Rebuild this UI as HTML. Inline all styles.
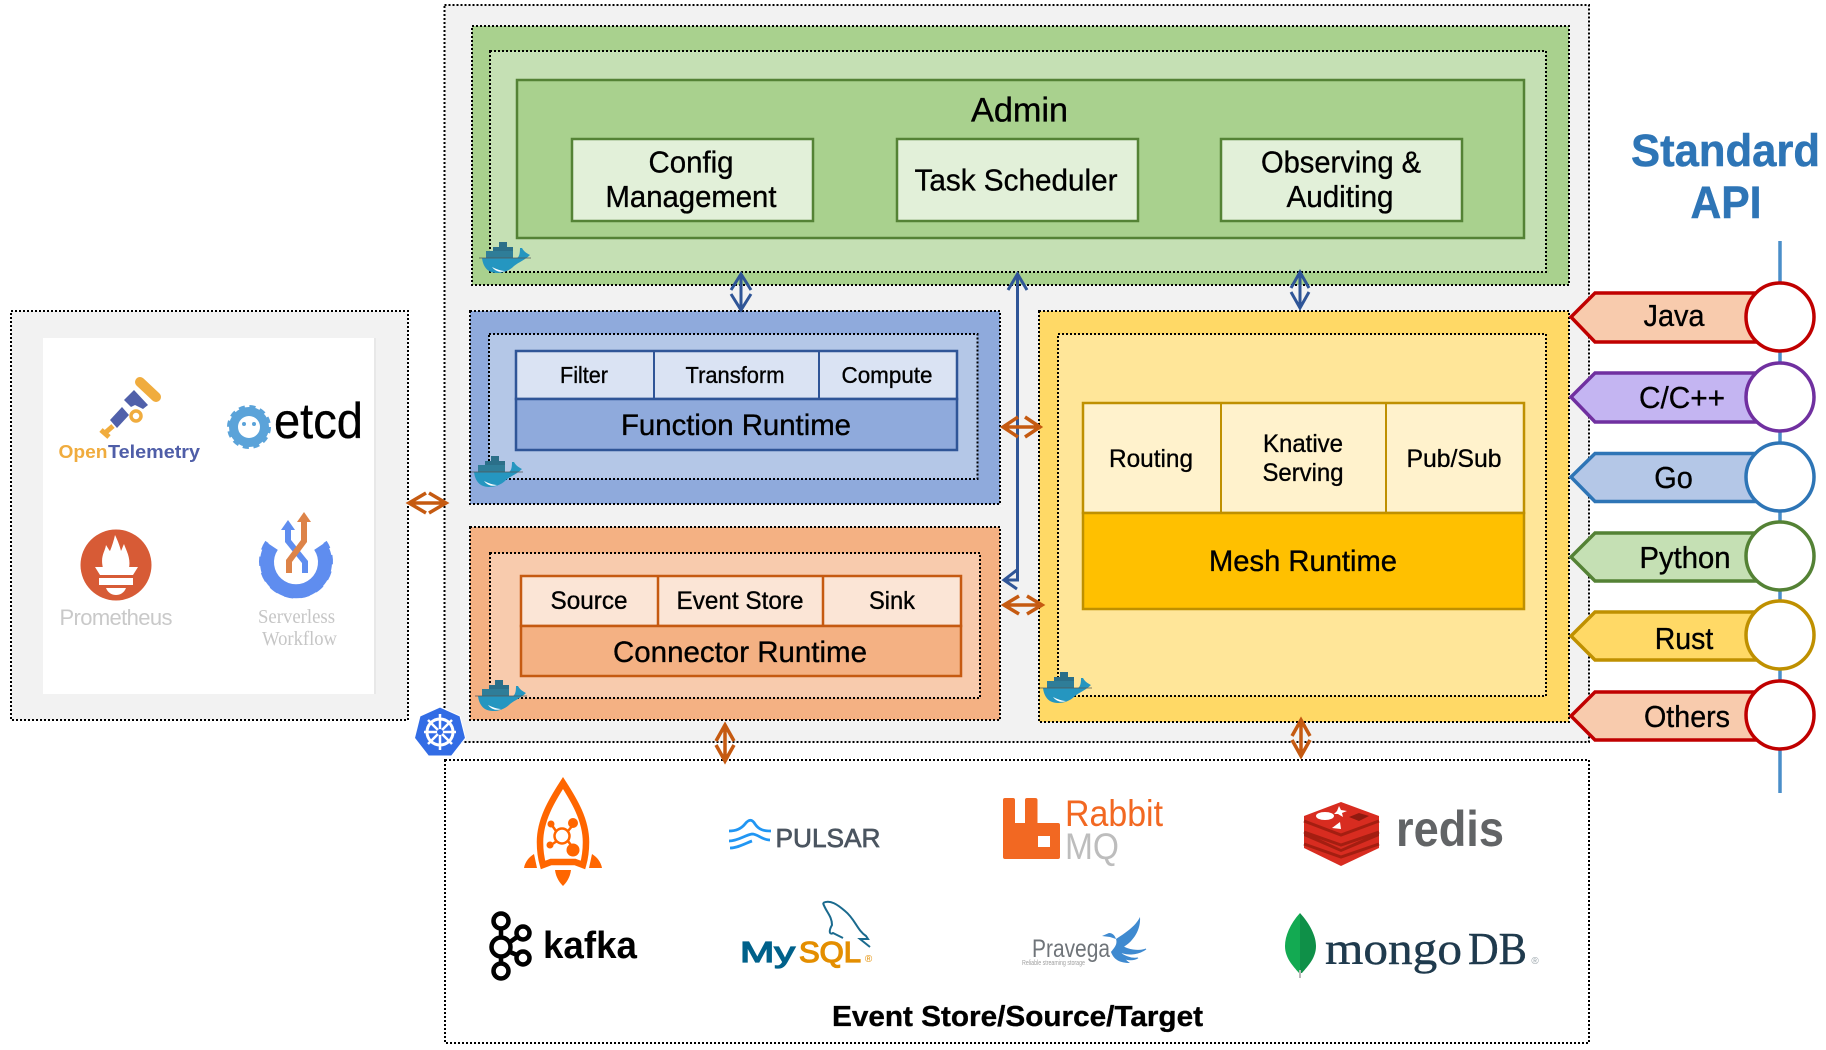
<!DOCTYPE html>
<html><head><meta charset="utf-8"><style>
html,body{margin:0;padding:0;background:#fff;width:1826px;height:1050px;overflow:hidden}
svg{display:block}
text{font-family:"Liberation Sans",sans-serif;fill:#000}
.m{text-anchor:middle}
.d{stroke:#000;stroke-width:2;stroke-dasharray:2 2}
.bl{fill:none;stroke:#2f5597;stroke-width:3}
.or{fill:none;stroke:#c55a11;stroke-width:3.5}
.k{stroke:#000;stroke-width:.35}
</style></head><body>
<svg width="1826" height="1050" viewBox="0 0 1826 1050" xmlns="http://www.w3.org/2000/svg">
<defs>
<symbol id="dk" viewBox="0 0 53 31">
<rect x="20" y="0" width="8" height="8" fill="#2b6f89"/><rect x="14" y="5" width="20" height="11" fill="#2b6f89"/><rect x="7" y="9" width="27" height="7" fill="#2f7d98"/>
<path d="M3 16H37C40 16 41 12 41 6L43 6C45 10 49 12 51 13C46 18 40 20 35 24C30 29 24 31 18 31C8 31 4 24 3 16Z" fill="#2596c0"/>
<path d="M13 25C16 29 21 31 26 29C22 29 17 27 13 25Z" fill="#fff"/>
<path d="M0 16H52" stroke="#555" stroke-width=".8" fill="none"/>
</symbol>
</defs>

<!-- left panel -->
<rect x="11" y="311" width="397" height="409" fill="#f2f2f2" class="d"/>
<rect x="43" y="338" width="332" height="356" fill="#fff"/><rect x="374" y="338" width="2" height="356" fill="#e8e8e8"/>

<!-- OpenTelemetry -->
<path d="M140 382L156 397" stroke="#f0ac3e" stroke-width="10" stroke-linecap="round"/>
<path d="M124 400L134 390L148 405L143 409L135 405L131 407Z" fill="#5060aa"/>
<path d="M110 420L122 407L129 415L117 428Z" fill="#5060aa"/>
<circle cx="136" cy="416" r="5" fill="none" stroke="#f0ac3e" stroke-width="3.5"/>
<path d="M105 433L113 426M101 430L109 437" stroke="#f0ac3e" stroke-width="5" fill="none"/>
<text x="83" y="458" class="m" font-size="18" font-weight="700" textLength="49" lengthAdjust="spacingAndGlyphs" style="fill:#f0ac3e">Open</text>
<text x="154" y="458" class="m" font-size="18" font-weight="700" textLength="92" lengthAdjust="spacingAndGlyphs" style="fill:#4f5ea8">Telemetry</text>

<!-- etcd -->
<circle cx="249" cy="427" r="15" fill="none" stroke="#5ba3d9" stroke-width="10"/>
<circle cx="249" cy="427" r="20" fill="none" stroke="#5ba3d9" stroke-width="4" stroke-dasharray="6 4.500"/>
<circle cx="249" cy="427" r="11" fill="#fff"/>
<circle cx="244" cy="424" r="2" fill="#5ba3d9"/><circle cx="254" cy="424" r="2" fill="#5ba3d9"/>
<text x="318.500" y="438" class="m k" font-size="50" textLength="89" lengthAdjust="spacingAndGlyphs">etcd</text>

<!-- Prometheus -->
<circle cx="116" cy="565" r="35.500" fill="#d75b36"/>
<path d="M103 568C100 556 105 552 106 545C108 548 109 550 110 551C112 546 114 540 115 535C118 541 120 547 121 551C122 549 123 546 124 544C126 550 131 558 129 568Z" fill="#fff"/>
<path d="M95 567H138L133 575H100Z" fill="#fff"/>
<rect x="99" y="578" width="34" height="7" fill="#fff"/>
<path d="M106 588H126C124 593 120 595 116 595C112 595 108 593 106 588Z" fill="#fff"/>
<text x="116" y="625" class="m" font-size="22" textLength="113" style="fill:#c9c9c9">Prometheus</text>

<!-- Serverless Workflow -->
<path d="M272 546A29 29 0 1 0 320 546" fill="none" stroke="#5f8def" stroke-width="14"/>
<path d="M267 542A35 35 0 1 0 325 542" fill="none" stroke="#5f8def" stroke-width="4" stroke-dasharray="9 7"/>
<path d="M305 573V562L288 541V528" fill="none" stroke="#5f8def" stroke-width="6"/>
<path d="M281 530L288 520L295 530Z" fill="#5f8def"/>
<path d="M289 573V561L304 541V521" fill="none" stroke="#dd8348" stroke-width="6"/>
<path d="M297 522L304 512L311 522Z" fill="#dd8348"/>
<text x="296.500" y="623" class="m" font-size="20" textLength="77" lengthAdjust="spacingAndGlyphs" style="font-family:'Liberation Serif',serif;fill:#c6c6c6">Serverless</text>
<text x="299.500" y="645" class="m" font-size="20" textLength="75" lengthAdjust="spacingAndGlyphs" style="font-family:'Liberation Serif',serif;fill:#c6c6c6">Workflow</text>

<!-- main panel -->
<rect x="444.500" y="5" width="1144.500" height="737" fill="#f2f2f2" class="d"/>

<!-- Admin -->
<rect x="472" y="26" width="1097" height="259" fill="#a9d18e" class="d"/>
<rect x="490" y="51" width="1056" height="221" fill="#c5e0b4" class="d"/>
<rect x="517" y="80" width="1007" height="158" fill="#a9d18e" stroke="#548235" stroke-width="2.500"/>
<text x="1019.500" y="121.500" class="m k" font-size="34" textLength="97" lengthAdjust="spacingAndGlyphs">Admin</text>
<g fill="#e2f0d9" stroke="#548235" stroke-width="2.500">
<rect x="572" y="139" width="241" height="82"/><rect x="897" y="139" width="241" height="82"/><rect x="1221" y="139" width="241" height="82"/>
</g>
<g font-size="31">
<text x="691" y="172.500" class="m k" textLength="85" lengthAdjust="spacingAndGlyphs">Config</text>
<text x="691" y="207" class="m k" textLength="171" lengthAdjust="spacingAndGlyphs">Management</text>
<text x="1016" y="190.500" class="m k" textLength="203" lengthAdjust="spacingAndGlyphs">Task Scheduler</text>
<text x="1341" y="172.500" class="m k" textLength="160" lengthAdjust="spacingAndGlyphs">Observing &amp;</text>
<text x="1340" y="207" class="m k" textLength="107" lengthAdjust="spacingAndGlyphs">Auditing</text>
</g>
<use href="#dk" x="479" y="242" width="53" height="31"/>

<!-- Function -->
<rect x="470" y="311" width="530" height="193" fill="#8faadc" class="d"/>
<rect x="489" y="334" width="488.500" height="145" fill="#b4c7e7" class="d"/>
<rect x="516" y="351" width="441" height="48" fill="#dae3f3" stroke="#2f5597" stroke-width="2.500"/>
<rect x="516" y="399" width="441" height="51" fill="#8faadc" stroke="#2f5597" stroke-width="2.500"/>
<path d="M654 351V399M819 351V399" stroke="#2f5597" stroke-width="2"/>
<g font-size="23">
<text x="584" y="383" class="m k" textLength="48" lengthAdjust="spacingAndGlyphs">Filter</text>
<text x="735" y="383" class="m k" textLength="99" lengthAdjust="spacingAndGlyphs">Transform</text>
<text x="887" y="383" class="m k" textLength="91" lengthAdjust="spacingAndGlyphs">Compute</text>
</g>
<text x="736" y="435" class="m k" font-size="30" textLength="230" lengthAdjust="spacingAndGlyphs">Function Runtime</text>
<use href="#dk" x="471" y="456" width="53" height="31"/>

<!-- Connector -->
<rect x="470" y="527" width="530" height="193" fill="#f4b183" class="d"/>
<rect x="490" y="553" width="490" height="145" fill="#f8cbad" class="d"/>
<rect x="521" y="576" width="440" height="50" fill="#fbe5d6" stroke="#c55a11" stroke-width="2.500"/>
<rect x="521" y="626" width="440" height="50" fill="#f4b183" stroke="#c55a11" stroke-width="2.500"/>
<path d="M658 576V626M823 576V626" stroke="#c55a11" stroke-width="2.500"/>
<g font-size="25">
<text x="589" y="609" class="m k" textLength="77" lengthAdjust="spacingAndGlyphs">Source</text>
<text x="740" y="609" class="m k" textLength="127" lengthAdjust="spacingAndGlyphs">Event Store</text>
<text x="892" y="609" class="m k" textLength="46" lengthAdjust="spacingAndGlyphs">Sink</text>
</g>
<text x="740" y="662" class="m k" font-size="30" textLength="254" lengthAdjust="spacingAndGlyphs">Connector Runtime</text>
<use href="#dk" x="475" y="680" width="53" height="31"/>

<!-- Mesh -->
<rect x="1039" y="311" width="530" height="411" fill="#ffd966" class="d"/>
<rect x="1058" y="334" width="488" height="362" fill="#ffe699" class="d"/>
<rect x="1083" y="403" width="441" height="110" fill="#fff2cc" stroke="#bf9000" stroke-width="2.500"/>
<rect x="1083" y="513" width="441" height="96" fill="#ffc000" stroke="#bf9000" stroke-width="2.500"/>
<path d="M1221 403V513M1386 403V513" stroke="#bf9000" stroke-width="2"/>
<g font-size="25">
<text x="1151" y="467" class="m k" textLength="84" lengthAdjust="spacingAndGlyphs">Routing</text>
<text x="1303" y="452" class="m k" textLength="80" lengthAdjust="spacingAndGlyphs">Knative</text>
<text x="1303" y="481" class="m k" textLength="81" lengthAdjust="spacingAndGlyphs">Serving</text>
<text x="1454" y="467" class="m k" textLength="95" lengthAdjust="spacingAndGlyphs">Pub/Sub</text>
</g>
<text x="1303" y="571" class="m k" font-size="30" textLength="188" lengthAdjust="spacingAndGlyphs">Mesh Runtime</text>
<use href="#dk" x="1040" y="672" width="53" height="31"/>

<!-- Event panel -->
<rect x="445" y="760" width="1144" height="283" fill="#fff" class="d"/>

<!-- arrows blue -->
<path class="bl" d="M741 275V310M731 290L741 274L751 290M731 294L741 310L751 294"/>
<path class="bl" d="M1017.500 274V580H1004M1008 290L1017.500 274L1027 290M1017 570L1004 580L1017 589"/>
<path class="bl" d="M1300 273V308M1291 288L1300 272L1309 288M1291 292L1300 308L1309 292"/>
<!-- arrows orange -->
<path class="or" d="M409 503H446M426 493L409 503L426 513M429 493L446 503L429 513"/>
<path class="or" d="M1003 427H1040M1018 417L1003 427L1018 437M1025 417L1040 427L1025 437"/>
<path class="or" d="M1004 605H1042M1019 596L1004 605L1019 614M1027 596L1042 605L1027 614"/>
<path class="or" d="M725 725V761M716 741L725 725L734 741M716 745L725 761L734 745"/>
<path class="or" d="M1301 720V756M1292 736L1301 720L1310 736M1292 740L1301 756L1310 740"/>

<!-- Kubernetes -->
<path d="M440 707L460 716L465.500 738L451.500 756H428.500L414.500 738L420 716Z" fill="#326ce5" stroke="#fff" stroke-width="1"/>
<circle cx="440" cy="732" r="13" fill="none" stroke="#fff" stroke-width="3"/>
<g stroke="#fff" stroke-width="2.500"><path d="M440 714V750M424 732H456M428 720L452 744M452 720L428 744"/></g>
<circle cx="440" cy="732" r="3" fill="#326ce5"/>

<!-- Standard API -->
<text x="1725.500" y="166" class="m" font-size="45" font-weight="700" textLength="189" lengthAdjust="spacingAndGlyphs" style="fill:#2e75b6;stroke:#2e75b6;stroke-width:.5">Standard</text>
<text x="1726" y="218" class="m" font-size="45" font-weight="700" textLength="71" lengthAdjust="spacingAndGlyphs" style="fill:#2e75b6;stroke:#2e75b6;stroke-width:.5">API</text>
<path d="M1780 241V793" stroke="#4a8ec9" stroke-width="3.500"/>

<!-- tags -->
<g stroke-width="3.500">
<path d="M1571 317L1595 293H1760V342H1595Z" fill="#f8cbad" stroke="#c00000"/>
<circle cx="1780" cy="317" r="34" fill="#fff" stroke="#c00000"/>
<path d="M1571 397L1595 373H1760V422H1595Z" fill="#c4b5f2" stroke="#7030a0"/>
<circle cx="1780" cy="397" r="34" fill="#fff" stroke="#7030a0"/>
<path d="M1571 477L1595 453.500H1760V501.500H1595Z" fill="#b4c7e7" stroke="#2e75b6"/>
<circle cx="1780" cy="477" r="34" fill="#fff" stroke="#2e75b6"/>
<path d="M1571 557L1595 533H1760V581H1595Z" fill="#c5e0b4" stroke="#548235"/>
<circle cx="1780" cy="556" r="34" fill="#fff" stroke="#548235"/>
<path d="M1571 636L1595 612H1760V660H1595Z" fill="#ffd966" stroke="#bf9000"/>
<circle cx="1780" cy="635" r="34" fill="#fff" stroke="#bf9000"/>
<path d="M1571 716L1595 692H1760V740H1595Z" fill="#f8cbad" stroke="#c00000"/>
<circle cx="1780" cy="715" r="34" fill="#fff" stroke="#c00000"/>
</g>
<g font-size="31">
<text x="1674" y="326" class="m k" textLength="61" lengthAdjust="spacingAndGlyphs">Java</text>
<text x="1682" y="408" class="m k" textLength="86" lengthAdjust="spacingAndGlyphs">C/C++</text>
<text x="1673.500" y="488" class="m k" textLength="38.500" lengthAdjust="spacingAndGlyphs">Go</text>
<text x="1685" y="568" class="m k" textLength="91" lengthAdjust="spacingAndGlyphs">Python</text>
<text x="1684" y="649" class="m k" textLength="58.500" lengthAdjust="spacingAndGlyphs">Rust</text>
<text x="1687" y="727" class="m k" textLength="86" lengthAdjust="spacingAndGlyphs">Others</text>
</g>

<!-- RocketMQ -->
<path d="M563 783C552 800 540 820 540 842C540 852 541 858 543 865L551 862H575L583 865C585 858 586 852 586 842C586 820 574 800 563 783Z" fill="#fff" stroke="#ff6600" stroke-width="6.500"/>
<path d="M524 868C525 862 529 857 534 854L537 868ZM555 870H571C570 878 566 883 563 886C560 883 556 878 555 870ZM602 868C601 862 597 857 592 854L589 868Z" fill="#ff6600"/>
<g stroke="#ff6600" stroke-width="2.500" fill="none"><circle cx="562" cy="836" r="7.500"/><path d="M556 831L551 824M568 831L573 825M557 841L551 845M568 841L573 848"/></g>
<circle cx="551" cy="824" r="3.500" fill="#ff6600"/><circle cx="573" cy="823" r="5" fill="#ff6600"/><circle cx="550" cy="845" r="3.500" fill="#ff6600"/><circle cx="573" cy="850" r="6.500" fill="#ff6600"/>

<!-- Pulsar -->
<path d="M729 831C736 831 741 829 745 824C749 819 752 819 755 824C759 830 764 831 771 831M729 841C738 841 745 835 752 834C758 834 762 840 770 840M730 848C738 848 746 843 752 841" fill="none" stroke="#2196f3" stroke-width="2.800"/>
<text x="828" y="847" class="m" font-size="26" textLength="105" lengthAdjust="spacingAndGlyphs" style="fill:#4b5560;stroke:#4b5560;stroke-width:.7">PULSAR</text>

<!-- Kafka -->
<g fill="none" stroke="#000" stroke-width="4.500">
<path d="M501 929V937M501 957V963M510 942L517 937M510 952L517 955"/>
<circle cx="501" cy="921" r="7.500"/><circle cx="501" cy="947" r="9.500"/><circle cx="501" cy="971" r="7.500"/><circle cx="523" cy="933" r="6.500"/><circle cx="523" cy="958" r="6.500"/>
</g>
<text x="590" y="958" class="m" font-size="38" font-weight="700" textLength="94" lengthAdjust="spacingAndGlyphs">kafka</text>

<!-- MySQL -->
<path d="M823 903C830 899 838 905 845 911C855 919 857 930 866 936L868 939L860 939L870 947M823 903C826 912 832 916 832 925C828 932 830 935 833 933L843 938" fill="none" stroke="#1a6a8e" stroke-width="2"/>
<text x="767.500" y="962" class="m" font-size="29" textLength="55" lengthAdjust="spacingAndGlyphs" style="fill:#00618a;stroke:#00618a;stroke-width:1.300">My</text>
<text x="830" y="962" class="m" font-size="29" textLength="62" lengthAdjust="spacingAndGlyphs" style="fill:#e48e00;stroke:#e48e00;stroke-width:1.300">SQL</text>
<text x="868.500" y="962" class="m" font-size="10" style="fill:#e48e00">®</text>

<!-- RabbitMQ -->
<path fill-rule="evenodd" d="M1003 800Q1003 798 1005 798H1013Q1015 798 1015 800V823H1025V800Q1025 798 1027 798H1035Q1037.500 798 1037.500 800V823H1058Q1060 823 1060 825V857Q1060 859 1058 859H1005Q1003 859 1003 857ZM1038 836V847H1050V836Z" fill="#f26822"/>
<text x="1114" y="826" class="m" font-size="37" textLength="98" lengthAdjust="spacingAndGlyphs" style="fill:#f26822">Rabbit</text>
<text x="1092" y="859" class="m" font-size="37" textLength="54" lengthAdjust="spacingAndGlyphs" style="fill:#bdbdbd">MQ</text>

<!-- Redis -->
<path d="M1304 848L1341 866L1379 848V836L1304 836Z" fill="#d82c20"/>
<path d="M1304 844L1341 857L1379 844" fill="none" stroke="#a41e11" stroke-width="3"/>
<path d="M1304 836L1341 852L1379 836V824L1304 824Z" fill="#a41e11"/>
<path d="M1304 832L1341 849L1379 832L1379 822L1304 822Z" fill="#d82c20"/>
<path d="M1304 832L1341 845L1379 832" fill="none" stroke="#a41e11" stroke-width="3"/>
<path d="M1304 821L1341 838L1379 821V816L1341 802L1304 816Z" fill="#d82c20"/>
<path d="M1304 821L1341 835L1379 821" fill="none" stroke="#a41e11" stroke-width="3"/>
<ellipse cx="1325" cy="816" rx="9" ry="4" fill="#fff"/>
<path d="M1339 806L1341 810L1347 811L1342 813L1343 817L1338 814L1334 814L1337 811Z" fill="#fff"/>
<path d="M1332 828L1340 822L1341 829Z" fill="#fff"/>
<path d="M1349 817L1359 813L1369 816L1359 821Z" fill="#8f1a10"/>
<text x="1450" y="846" class="m" font-size="50" font-weight="700" textLength="108" lengthAdjust="spacingAndGlyphs" style="fill:#626466">redis</text>

<!-- Pravega -->
<text x="1071" y="957" class="m" font-size="25" textLength="78" lengthAdjust="spacingAndGlyphs" style="fill:#6f7479">Pravega</text>
<text x="1053.500" y="965" class="m" font-size="7" textLength="63" lengthAdjust="spacingAndGlyphs" style="fill:#a0a0a0">Reliable streaming storage</text>
<path d="M1102 936L1109 933C1113 933 1115 936 1116 939C1118 945 1113 949 1111 952C1114 960 1120 963 1130 963C1120 956 1120 950 1125 946C1133 941 1141 930 1140 917C1135 927 1125 933 1116 939L1110 937Z" fill="#3f8ad0"/>
<path d="M1120 943C1126 940 1131 934 1134 929M1117 950C1125 956 1138 955 1146 949C1138 952 1128 950 1120 945ZM1118 956C1124 960 1133 961 1138 958C1131 959 1124 956 1119 952Z" fill="#3f8ad0" stroke="#3f8ad0" stroke-width="1"/>

<!-- MongoDB -->
<path d="M1300 913C1310 924 1316 936 1316 946C1316 958 1308 966 1302 973L1300 973Z" fill="#0f9048"/>
<path d="M1300 913C1290 924 1285 936 1285 946C1285 958 1293 966 1299 973L1300 973Z" fill="#13aa52"/>
<path d="M1300 970V978" stroke="#b7b7b7" stroke-width="2"/>
<text x="1393.500" y="964" class="m" font-size="46" textLength="137" lengthAdjust="spacingAndGlyphs" style="font-family:'Liberation Serif',serif;fill:#1f3a4d;stroke:#1f3a4d;stroke-width:.4">mongo</text>
<text x="1497.500" y="964" class="m" font-size="46" textLength="59" lengthAdjust="spacingAndGlyphs" style="font-family:'Liberation Serif',serif;fill:#1f3a4d;stroke:#1f3a4d;stroke-width:.4">DB</text>
<text x="1535" y="964" class="m" font-size="10" style="fill:#9aa5ab">®</text>

<text x="1017.500" y="1026" class="m k" font-size="29" font-weight="700" textLength="371" lengthAdjust="spacingAndGlyphs">Event Store/Source/Target</text>
</svg>
</body></html>
